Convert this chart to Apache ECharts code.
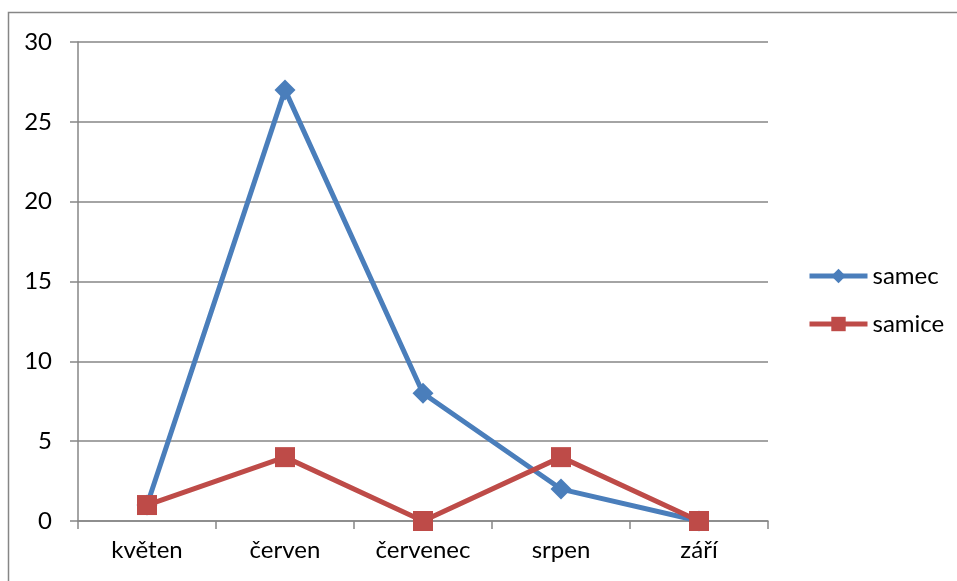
<!DOCTYPE html>
<html><head><meta charset="utf-8">
<script src="https://cdn.jsdelivr.net/npm/echarts@6/dist/echarts.min.js"></script>
<style>html,body{margin:0;padding:0;background:#fff}#c{width:957px;height:581px}</style>
</head><body><div id="c"></div>
<script>
const categories = ['květen', 'červen', 'červenec', 'srpen', 'září'];
const samec = [1, 27, 8, 2, 0];
const samice = [1, 4, 0, 4, 0];
const yTicks = {min: 0, max: 30, interval: 5};

const FONT = 'Lato';
const chart = echarts.init(document.getElementById('c'), null, {renderer: 'canvas'});
chart.setOption({
  animation: false,
  backgroundColor: '#fff',
  grid: {left: 78, right: 189, top: 42, bottom: 60, containLabel: false},
  graphic: [{
    type: 'rect', silent: true, z: -1,
    shape: {x: 8.5, y: 12.5, width: 1200, height: 1200},
    style: {fill: 'none', stroke: '#868686', lineWidth: 1.5}
  }],
  legend: {
    orient: 'vertical', left: 802, top: 259, itemGap: 24,
    itemWidth: 58, itemHeight: 18,
    textStyle: {fontFamily: FONT, fontSize: 24, color: '#000'},
    data: [
      {name: 'samec', lineStyle: {width: 5}},
      {name: 'samice', lineStyle: {width: 5}}
    ]
  },
  xAxis: {
    type: 'category', data: categories, boundaryGap: true,
    axisLine: {lineStyle: {color: '#868686', width: 1.5}},
    axisTick: {show: true, length: 8, lineStyle: {color: '#868686', width: 1.5}},
    axisLabel: {fontFamily: FONT, fontSize: 24, color: '#000', margin: 17}
  },
  yAxis: {
    type: 'value', min: yTicks.min, max: yTicks.max, interval: yTicks.interval,
    axisLine: {show: true, lineStyle: {color: '#868686', width: 1.5}},
    axisTick: {show: true, length: 8, lineStyle: {color: '#868686', width: 1.5}},
    axisLabel: {fontFamily: FONT, fontSize: 24, color: '#000', margin: 26},
    splitLine: {lineStyle: {color: '#868686', width: 1.5}}
  },
  series: [{
    name: 'samec', type: 'line', data: samec,
    symbol: 'diamond', symbolSize: 21,
    lineStyle: {color: '#4a7ebb', width: 5},
    itemStyle: {color: '#4a7ebb'},
    z: 2
  }, {
    name: 'samice', type: 'line', data: samice,
    symbol: 'rect', symbolSize: 20,
    lineStyle: {color: '#be4b48', width: 5},
    itemStyle: {color: '#be4b48'},
    z: 3
  }]
});
</script></body></html>
